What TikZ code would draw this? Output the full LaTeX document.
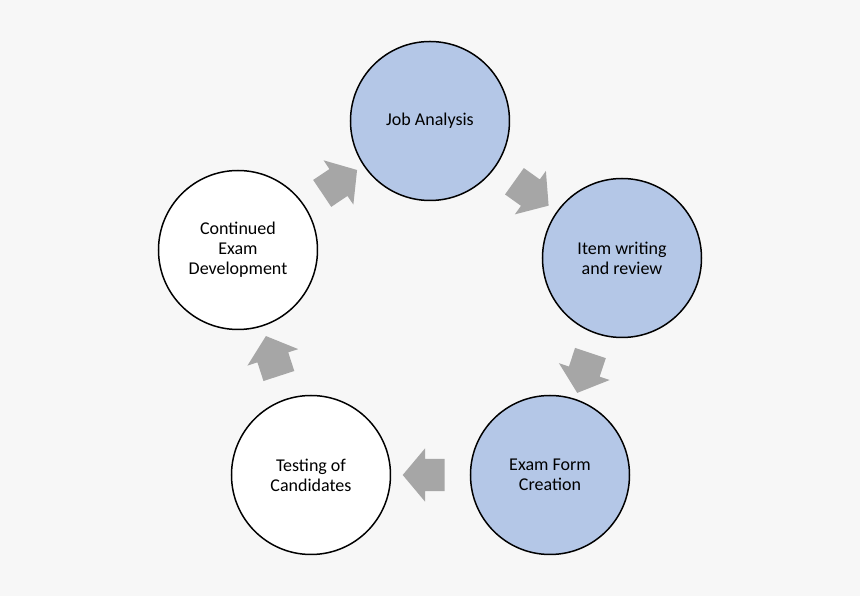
\documentclass[tikz,border=0pt]{standalone}
\usepackage{fontspec}
\setmainfont{Carlito}
\usetikzlibrary{shapes.arrows}
\definecolor{stageblue}{HTML}{B4C7E7}
\definecolor{flowgray}{HTML}{A6A6A6}
\definecolor{bggray}{HTML}{F7F7F7}
\tikzstyle{node:stage}=[circle,draw,line width=1.5pt,minimum size=159pt,align=center,font=\fontsize{18}{20}\selectfont]
\tikzstyle{node:stageblue}=[node:stage,fill=stageblue]
\tikzstyle{node:stagewhite}=[node:stage,fill=white]
\tikzstyle{draw:flow}=[single arrow,fill=flowgray,inner xsep=0pt,inner ysep=16pt,minimum height=42pt,minimum width=53pt,single arrow head extend=10.5pt,single arrow tip angle=100,sloped,allow upside down]

\begin{document}
\begin{tikzpicture}[x=1pt,y=1pt]
        % Background
        \fill[bggray] (-430,-280) rectangle (430,316);

        % Stages of the cycle
        \node[node:stageblue] (job) at (0,195) {Job Analysis};
        \node[node:stageblue] (item) at (192,58) {Item writing\\and review};
        \node[node:stageblue] (form) at (120,-159) {Exam Form\\Creation};
        \node[node:stagewhite] (test) at (-119,-159) {Testing of\\Candidates};
        \node[node:stagewhite] (cont) at (-192,66) {Continued\\Exam\\Development};

        % Arrows between stages
        \path (job) -- (item) node[midway,draw:flow] {};
        \path (item) -- (form) node[midway,draw:flow] {};
        \path (form) -- (test) node[midway,draw:flow] {};
        \path (test) -- (cont) node[midway,draw:flow] {};
        \path (cont) -- (job) node[midway,draw:flow] {};

    \end{tikzpicture}
\end{document}
